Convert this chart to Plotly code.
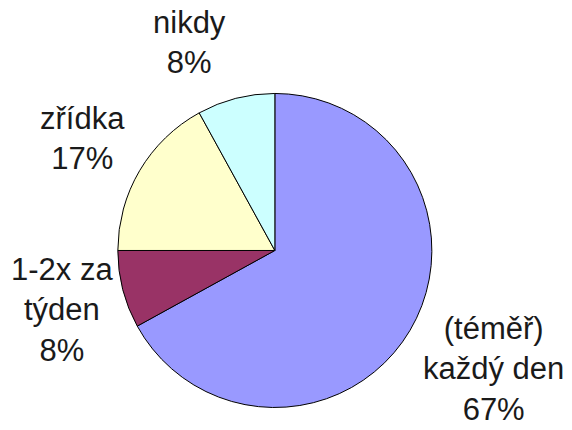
import math
import plotly.graph_objects as go

labels = ["(téměř)<br>každý den", "1-2x za<br>týden", "zřídka", "nikdy"]
values = [67, 8, 17, 8]
percents = ["67%", "8%", "17%", "8%"]
colors = ["#9999FF", "#993366", "#FFFFCC", "#CCFFFF"]

W, H = 572, 430
dom_x = [0.206, 0.755]
dom_y = [0.051, 0.784]

fig = go.Figure(go.Pie(
    labels=[l.replace("<br>", " ") for l in labels],
    values=values,
    sort=False,
    direction="clockwise",
    rotation=0,
    marker=dict(colors=colors, line=dict(color="#000000", width=1)),
    textinfo="none",
    hoverinfo="label+percent",
    showlegend=False,
    domain=dict(x=dom_x, y=dom_y),
))

# label placement derived from slice mid-angles
cx = (dom_x[0] + dom_x[1]) / 2 * W
cy = (1 - (dom_y[0] + dom_y[1]) / 2) * H
R = min((dom_x[1] - dom_x[0]) * W, (dom_y[1] - dom_y[0]) * H) / 2
radial = [1.62, 1.41, 1.41, 1.42]
nudge = [(0, -11), (2, 4), (-2, 1), (-30, 8)]
total = sum(values)
cum = 0
annotations = []
for i, v in enumerate(values):
    mid = (cum + v / 2) / total * 2 * math.pi
    cum += v
    px = cx + R * radial[i] * math.sin(mid) + nudge[i][0]
    py = cy - R * radial[i] * math.cos(mid) + nudge[i][1]
    annotations.append(dict(
        x=px / W, y=1 - py / H, xref="paper", yref="paper",
        text=labels[i] + "<br>" + percents[i],
        showarrow=False, xanchor="center", yanchor="middle",
        font=dict(family="Liberation Sans, Arial, sans-serif", size=31, color="#1a1a1a"),
        align="center",
    ))

fig.update_layout(
    width=W, height=H,
    margin=dict(l=0, r=0, t=0, b=0),
    paper_bgcolor="#FFFFFF",
    plot_bgcolor="#FFFFFF",
    annotations=annotations,
)

fig.write_html("out.html")
